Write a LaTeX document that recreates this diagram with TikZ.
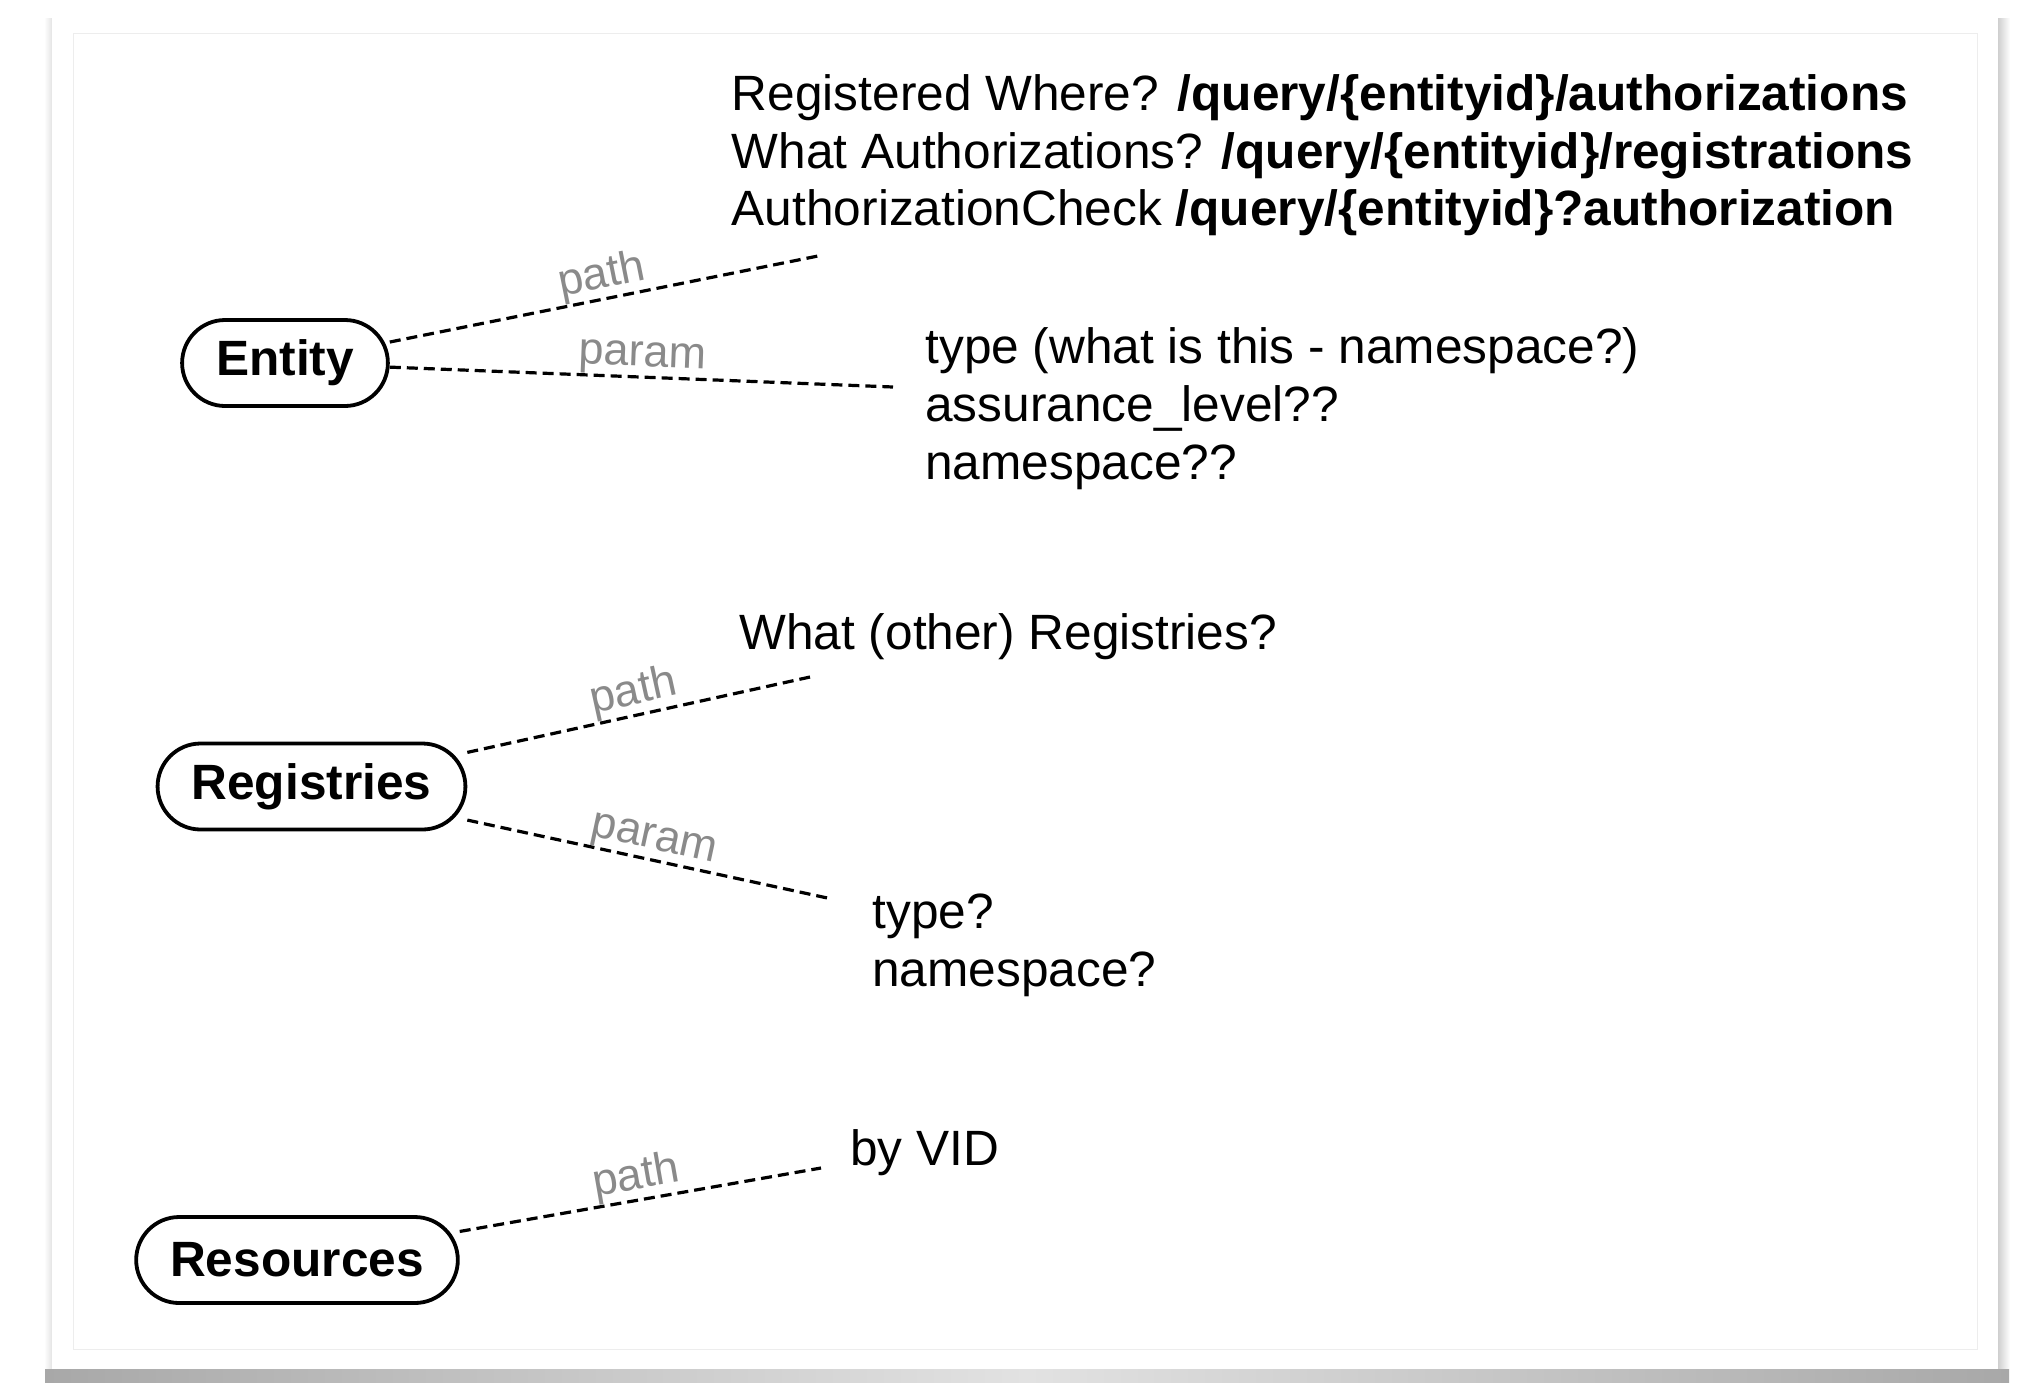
\documentclass[tikz,border=0pt]{standalone}
\usepackage{fontspec}
\setmainfont{Liberation Sans}
\definecolor{lblgray}{HTML}{8A8A8A}
\definecolor{frameline}{HTML}{EDEDED}
\definecolor{shadowdark}{HTML}{A8A8A8}
\definecolor{shadowlight}{HTML}{E2E2E2}
\definecolor{sideshadow}{HTML}{E4E4E4}
\definecolor{rightshadow}{HTML}{CFCFCF}
\begin{document}
\begin{tikzpicture}[x=0.5pt,y=-0.5pt,
  every node/.style={font=\fontsize{24.8}{29}\selectfont, inner sep=0pt},
  pill/.style={draw, line width=1.9pt, rounded corners=21.5pt, minimum height=43pt,
    inner xsep=17pt, font=\fontsize{24.8}{29}\selectfont\bfseries},
  link/.style={draw, dash pattern=on 5.5pt off 3pt, line width=1.6pt},
  lbl/.style={sloped, above, inner sep=0pt, text=lblgray, font=\fontsize{22.5}{26}\selectfont, pos=0.5},
  txt/.style={anchor=base west, inner sep=0pt}]
% canvas and page
\useasboundingbox (0,0) rectangle (2023,1382);
\fill[white] (0,0) rectangle (2023,1382);
\shade[left color=white, right color=sideshadow] (44,18) rectangle (52,1369);
\shade[left color=rightshadow, right color=white] (1998,18) rectangle (2010,1369);
\shade[left color=shadowdark, right color=shadowdark, middle color=shadowlight] (45,1369) rectangle (2009,1382);
\fill[white] (52,11) rectangle (1998,1369);
\draw[frameline, line width=0.5pt] (73,33) rectangle (1977,1349);

% main nodes
\node[pill] (entity) at (285,363) {Entity};
\node[pill] (registries) at (311.5,786.5) {Registries};
\node[pill] (resources) at (297,1260) {Resources};

% free ends of connectors
\coordinate (ePathEnd) at (823,255);
\coordinate (eParamEnd) at (893,387);
\coordinate (rPathEnd) at (810,677);
\coordinate (rParamEnd) at (832,899);
\coordinate (sPathEnd) at (821,1168);

% connectors
\draw[link] (entity) -- node[lbl] (lblEPath) {path} (ePathEnd);
\draw[link] (entity) -- node[lbl] (lblEParam) {param} (eParamEnd);
\draw[link] (registries) -- node[lbl] (lblRPath) {path} (rPathEnd);
\draw[link] (registries) -- node[lbl] (lblRParam) {param} (rParamEnd);
\draw[link] (resources) -- node[lbl] (lblSPath) {path} (sPathEnd);

% texts
\node[txt] (q1) at (731.5,110.5) {Registered Where? \textbf{/query/\{entityid\}/authorizations}};
\node[txt] (q2) at (731.5,168.5) {What Authorizations? \textbf{/query/\{entityid\}/registrations}};
\node[txt] (q3) at (731.5,225.5) {AuthorizationCheck \textbf{/query/\{entityid\}?authorization}};
\node[txt] (p1) at (925,363.5) {type (what is this - namespace?)};
\node[txt] (p2) at (925,421.5) {assurance\_level??};
\node[txt] (p3) at (925,479.5) {namespace??};
\node[txt] (rq) at (739,649.5) {What (other) Registries?};
\node[txt] (rp1) at (872,928.5) {type?};
\node[txt] (rp2) at (872,986.5) {namespace?};
\node[txt] (vid) at (850,1165) {by VID};
\end{tikzpicture}
\end{document}
